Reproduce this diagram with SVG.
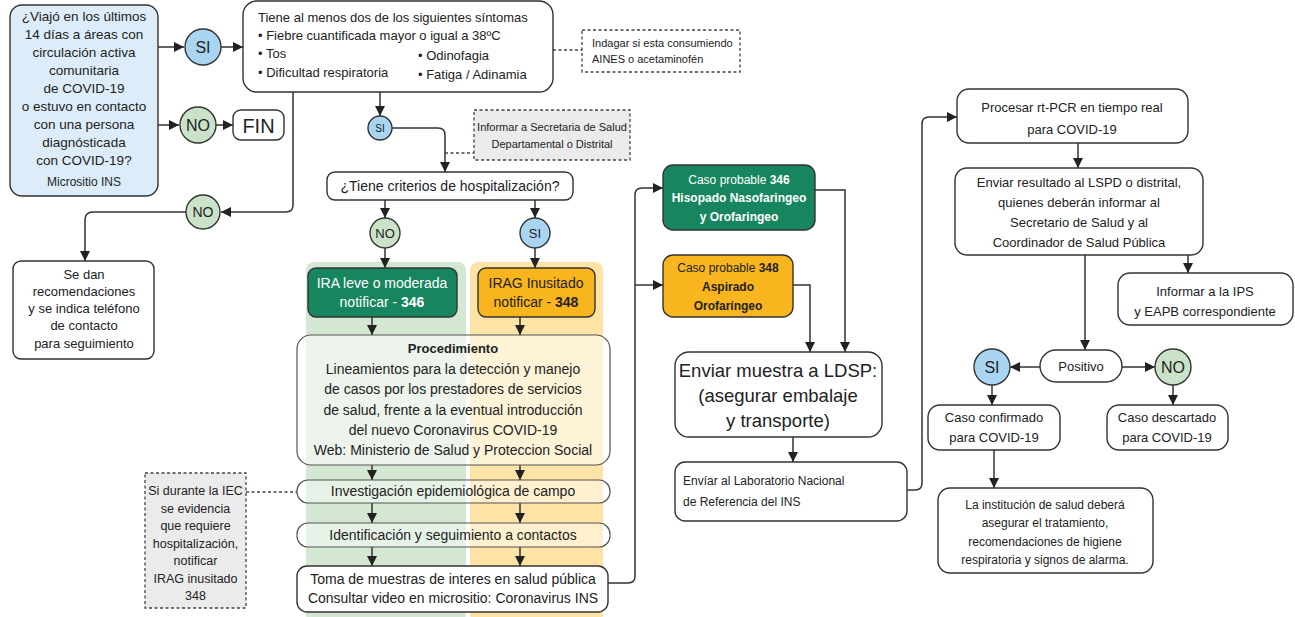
<svg xmlns="http://www.w3.org/2000/svg" width="1295" height="617" viewBox="0 0 1295 617">
<defs>
<marker id="ah" viewBox="0 0 10 10" refX="10" refY="5" markerWidth="10" markerHeight="10" markerUnits="userSpaceOnUse" orient="auto"><path d="M0,0 L10,5 L0,10 z" fill="#222"/></marker>
<style>
text{font-family:"Liberation Sans",Arial,sans-serif;fill:#222;}
.c{text-anchor:middle;}
.box{fill:#fff;stroke:#333;stroke-width:1.4;}
.note{fill:#fff;stroke:#444;stroke-width:1.3;stroke-dasharray:3 2.5;}
.gnote{fill:#ebebeb;stroke:#444;stroke-width:1.3;stroke-dasharray:3 2.5;}
.si{fill:#a9d5f2;stroke:#333;stroke-width:1.4;}
.no{fill:#cae2c8;stroke:#333;stroke-width:1.4;}
.dg{fill:#17855e;stroke:#333;stroke-width:1.4;}
.or{fill:#f9b51d;stroke:#333;stroke-width:1.4;}
.ar{fill:none;stroke:#333;stroke-width:1.5;marker-end:url(#ah);}
.ds{fill:none;stroke:#444;stroke-width:1.3;stroke-dasharray:3 2.5;}
.t13{font-size:13px;}
.t12{font-size:12px;}
.t11{font-size:11px;}
.t14{font-size:14px;}
.w{fill:#fff;}
.b{font-weight:bold;}
</style>
</defs>

<g id="columns">
<rect x="306" y="262" width="160" height="360" rx="8" fill="#d4e7d2"/>
<rect x="470" y="262" width="133" height="360" rx="8" fill="#fde4a6"/>
</g>

<g id="connectors">
<path class="ar" d="M158,47 H184"/>
<path class="ar" d="M221,47 H243"/>
<path class="ar" d="M158,125 H179"/>
<path class="ar" d="M216,125 H233"/>
<path class="ar" d="M380,92 V116"/>
<path class="ar" d="M392,128 H438 Q445,128 445,135 V172"/>
<path class="ds" d="M553,50 H582"/>
<path class="ds" d="M445,153 H474"/>
<path class="ar" d="M293,92 V205 Q293,212 286,212 H221"/>
<path class="ar" d="M186,212 H93 Q85,212 85,220 V261"/>
<path class="ar" d="M385,200 V218"/>
<path class="ar" d="M535,200 V218"/>
<path class="ar" d="M385,248 V268"/>
<path class="ar" d="M535,248 V268"/>
<path class="ar" d="M372,317 V335"/>
<path class="ar" d="M520,317 V335"/>
<path class="ar" d="M372,465 V480"/>
<path class="ar" d="M520,465 V480"/>
<path class="ar" d="M372,503 V523"/>
<path class="ar" d="M520,503 V523"/>
<path class="ar" d="M372,547 V566"/>
<path class="ar" d="M520,547 V566"/>
<path class="ds" d="M246,492 H297"/>
<path class="ar" d="M608,583 H628 Q635,583 635,576 V195 Q635,188 642,188 H663"/>
<path class="ar" d="M635,285 H663"/>
<path class="ar" d="M815,190 H845 V352"/>
<path class="ar" d="M793,285 H810 V352"/>
<path class="ar" d="M793,437 V462"/>
<path class="ar" d="M907,490 H915 Q922,490 922,483 V124 Q922,117 929,117 H957"/>
<path class="ar" d="M1078,143 V168"/>
<path class="ar" d="M1188,255 V273"/>
<path class="ar" d="M1085,255 V350"/>
<path class="ar" d="M1040,367 H1010"/>
<path class="ar" d="M1122,367 H1155"/>
<path class="ar" d="M992,385 V405"/>
<path class="ar" d="M1173,385 V405"/>
<path class="ar" d="M994,450 V488"/>
</g>

<g id="start">
<rect x="10" y="5" width="148" height="191" rx="12" fill="#dcedf9" stroke="#333" stroke-width="1.4"/>
<text class="c" font-size="13.5" x="84" y="21">¿Viajó en los últimos</text>
<text class="c" font-size="13.5" x="84" y="39">14 días a áreas con</text>
<text class="c" font-size="13.5" x="84" y="57">circulación activa</text>
<text class="c" font-size="13.5" x="84" y="75">comunitaria</text>
<text class="c" font-size="13.5" x="84" y="93">de COVID-19</text>
<text class="c" font-size="13.5" x="84" y="111">o estuvo en contacto</text>
<text class="c" font-size="13.5" x="84" y="129">con una persona</text>
<text class="c" font-size="13.5" x="84" y="147">diagnósticada</text>
<text class="c" font-size="13.5" x="84" y="165">con COVID-19?</text>
<text class="c t12" x="84" y="186">Micrositio INS</text>
</g>

<g id="si1"><circle class="si" cx="203" cy="47" r="18"/><text class="c" x="203" y="53" font-size="16">SI</text></g>
<g id="no1"><circle class="no" cx="198" cy="125" r="18"/><text class="c" x="198" y="131" font-size="16">NO</text></g>
<g id="fin"><rect class="box" x="233" y="110" width="51" height="30" rx="8"/><text class="c" x="258.5" y="133" font-size="20">FIN</text></g>

<g id="sintomas">
<rect class="box" x="243" y="1" width="310" height="91" rx="14"/>
<text class="t13" x="258" y="22">Tiene al menos dos de los siguientes síntomas</text>
<text class="t13" x="258" y="40">• Fiebre cuantificada mayor o igual a 38ºC</text>
<text class="t13" x="258" y="58">• Tos</text>
<text class="t13" x="418" y="60">• Odinofagia</text>
<text class="t13" x="258" y="77">• Dificultad respiratoria</text>
<text class="t13" x="418" y="79">• Fatiga / Adinamia</text>
</g>

<g id="nota-aines">
<rect class="note" x="582" y="30" width="158" height="42"/>
<text class="t11" x="592" y="47">Indagar si esta consumiendo</text>
<text class="t11" x="592" y="63">AINES o acetaminofén</text>
</g>

<g id="si2"><circle class="si" cx="380" cy="128" r="12"/><text class="c" x="380" y="132" font-size="10">SI</text></g>

<g id="nota-secretaria">
<rect class="gnote" x="474" y="110" width="156" height="50"/>
<text class="c" font-size="11" x="552" y="131">Informar a Secretaria de Salud</text>
<text class="c" font-size="11" x="552" y="148">Departamental o Distrital</text>
</g>

<g id="no2"><circle class="no" cx="203" cy="212" r="17"/><text class="c" x="203" y="217" font-size="14">NO</text></g>

<g id="recomendaciones">
<rect class="box" x="13" y="261" width="141" height="98" rx="8"/>
<text class="c t13" x="84" y="279">Se dan</text>
<text class="c t13" x="84" y="296">recomendaciones</text>
<text class="c t13" x="84" y="313">y se indica teléfono</text>
<text class="c t13" x="84" y="330">de contacto</text>
<text class="c t13" x="84" y="348">para seguimiento</text>
</g>

<g id="criterios">
<rect class="box" x="327" y="172" width="246" height="28" rx="8"/>
<text class="c t14" x="450" y="191">¿Tiene criterios de hospitalización?</text>
</g>

<g id="no3"><circle class="no" cx="385" cy="233" r="15"/><text class="c" x="385" y="238" font-size="13">NO</text></g>
<g id="si3"><circle class="si" cx="535" cy="233" r="15"/><text class="c" x="535" y="238" font-size="13">SI</text></g>

<g id="ira">
<rect class="dg" x="308" y="268" width="149" height="49" rx="8"/>
<text class="c t14 w" x="382" y="288">IRA leve o moderada</text>
<text class="c t14 w" x="382" y="307">notificar  -  <tspan class="b w">346</tspan></text>
</g>

<g id="irag">
<rect class="or" x="478" y="268" width="117" height="49" rx="8"/>
<text class="c t14" x="536" y="288">IRAG Inusitado</text>
<text class="c t14" x="536" y="307">notificar -   <tspan class="b">348</tspan></text>
</g>

<g id="procedimiento">
<rect x="297" y="335" width="313" height="130" rx="14" fill="#fff" fill-opacity="0.55" stroke="#555" stroke-width="1.2"/>
<text class="c t13 b" x="453" y="353">Procedimiento</text>
<text class="c t14" x="453" y="374">Lineamientos para la detección y manejo</text>
<text class="c t14" x="453" y="394">de casos por los prestadores de servicios</text>
<text class="c t14" x="453" y="415">de salud, frente a la eventual introducción</text>
<text class="c t14" x="453" y="435">del nuevo Coronavirus COVID-19</text>
<text class="c t14" x="453" y="455">Web: Ministerio de Salud y Proteccion Social</text>
</g>

<g id="investigacion">
<rect x="297" y="480" width="313" height="23" rx="11" fill="#fff" fill-opacity="0.45" stroke="#555" stroke-width="1.2"/>
<text class="c t14" x="453" y="496">Investigación epidemiológica de campo</text>
</g>

<g id="identificacion">
<rect x="297" y="523" width="313" height="24" rx="11" fill="#fff" fill-opacity="0.45" stroke="#555" stroke-width="1.2"/>
<text class="c t14" x="453" y="540">Identificación y seguimiento a contactos</text>
</g>

<g id="toma">
<rect class="box" x="297" y="566" width="311" height="46" rx="10"/>
<text class="c t14" x="453" y="584">Toma de muestras de interes en salud pública</text>
<text class="c t14" x="453" y="603">Consultar video en micrositio: Coronavirus INS</text>
</g>

<g id="nota-iec">
<rect class="gnote" x="145" y="473" width="101" height="135"/>
<text class="c" font-size="12.5" x="195.5" y="495">Si durante la IEC</text>
<text class="c" font-size="12.5" x="195.5" y="513">se evidencia</text>
<text class="c" font-size="12.5" x="195.5" y="530">que requiere</text>
<text class="c" font-size="12.5" x="195.5" y="548">hospitalización,</text>
<text class="c" font-size="12.5" x="195.5" y="565">notificar</text>
<text class="c" font-size="12.5" x="195.5" y="583">IRAG inusitado</text>
<text class="c" font-size="12.5" x="195.5" y="600">348</text>
</g>

<g id="caso346">
<rect class="dg" x="663" y="165" width="152" height="65" rx="10"/>
<text class="c t12 w" x="739" y="184">Caso probable <tspan class="b w">346</tspan></text>
<text class="c t12 b w" x="739" y="202">Hisopado Nasofaringeo</text>
<text class="c t12 b w" x="739" y="221">y Orofaringeo</text>
</g>

<g id="caso348">
<rect class="or" x="663" y="255" width="130" height="62" rx="10"/>
<text class="c t12" x="728" y="272">Caso probable <tspan class="b">348</tspan></text>
<text class="c t12 b" x="728" y="291">Aspirado</text>
<text class="c t12 b" x="728" y="310">Orofaríngeo</text>
</g>

<g id="enviar-ldsp">
<rect class="box" x="675" y="352" width="207" height="85" rx="14"/>
<text class="c" x="778" y="377" font-size="18.5">Enviar muestra a LDSP:</text>
<text class="c" x="778" y="402" font-size="18.5">(asegurar embalaje</text>
<text class="c" x="778" y="427" font-size="18.5">y transporte)</text>
</g>

<g id="enviar-ins">
<rect class="box" x="675" y="462" width="232" height="59" rx="10"/>
<text class="t12" x="683" y="485">Envíar al Laboratorio Nacional</text>
<text class="t12" x="683" y="506">de Referencia del INS</text>
</g>

<g id="procesar">
<rect class="box" x="957" y="89" width="231" height="54" rx="12"/>
<text class="c t13" x="1072" y="112">Procesar rt-PCR en tiempo real</text>
<text class="c t13" x="1072" y="134">para COVID-19</text>
</g>

<g id="resultado">
<rect class="box" x="955" y="168" width="248" height="87" rx="12"/>
<text class="c t13" x="1079" y="187">Enviar resultado al LSPD o distrital,</text>
<text class="c t13" x="1079" y="207">quienes deberán informar al</text>
<text class="c t13" x="1079" y="227">Secretario de Salud y al</text>
<text class="c t13" x="1079" y="247">Coordinador de Salud Pública</text>
</g>

<g id="ips">
<rect class="box" x="1118" y="273" width="175" height="52" rx="12"/>
<text class="c t13" x="1205" y="296">Informar a la IPS</text>
<text class="c t13" x="1205" y="316">y EAPB correspondiente</text>
</g>

<g id="positivo">
<rect class="box" x="1040" y="350" width="82" height="32" rx="16"/>
<text class="c t13" x="1081" y="371">Positivo</text>
</g>

<g id="si4"><circle class="si" cx="992" cy="367" r="18"/><text class="c" x="992" y="373" font-size="16">SI</text></g>
<g id="no4"><circle class="no" cx="1173" cy="367" r="18"/><text class="c" x="1173" y="373" font-size="16">NO</text></g>

<g id="confirmado">
<rect class="box" x="928" y="405" width="132" height="45" rx="12"/>
<text class="c t13" x="994" y="422">Caso confirmado</text>
<text class="c t13" x="994" y="442">para COVID-19</text>
</g>

<g id="descartado">
<rect class="box" x="1107" y="405" width="121" height="45" rx="12"/>
<text class="c t13" x="1167" y="422">Caso descartado</text>
<text class="c t13" x="1167" y="442">para COVID-19</text>
</g>

<g id="institucion">
<rect class="box" x="938" y="488" width="215" height="85" rx="12"/>
<text class="c" font-size="12" x="1045" y="509">La institución de salud deberá</text>
<text class="c" font-size="12" x="1045" y="527">asegurar el tratamiento,</text>
<text class="c" font-size="12" x="1045" y="546">recomendaciones de higiene</text>
<text class="c" font-size="12" x="1045" y="564">respiratoria y signos de alarma.</text>
</g>
</svg>
